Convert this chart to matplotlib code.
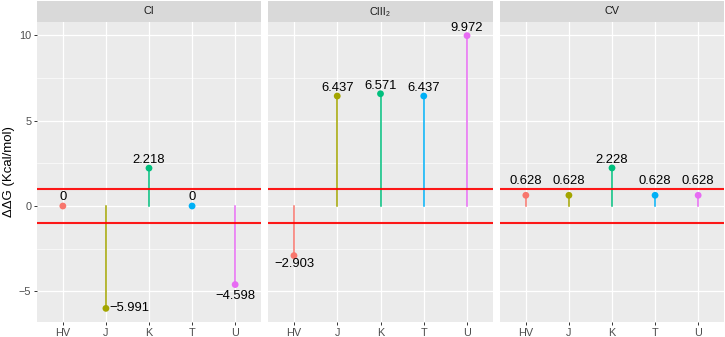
import numpy as np
import matplotlib.pyplot as plt

plt.rcParams['font.family'] = ['Liberation Sans', 'DejaVu Sans']

# data
groups = ['HV', 'J', 'K', 'T', 'U']
facets = ['CI', 'CIII\u2082', 'CV']
ci_vals = [0, -5.991, 2.218, 0, -4.598]
ciii_vals = [-2.903, 6.437, 6.571, 6.437, 9.972]
cv_vals = [0.628, 0.628, 2.228, 0.628, 0.628]
all_vals = [ci_vals, ciii_vals, cv_vals]

colors = ['#F8766D', '#A3A500', '#00BF7D', '#00B0F6', '#E76BF3']

### label nudges in pixels (dx, dy, ha, va), by facet
nudges = [
    [(0, 3, 'center', 'bottom'), (3, 0, 'left', 'center'), (0, 2, 'center', 'bottom'),
     (0, 3, 'center', 'bottom'), (0, -5, 'center', 'top')],
    [(0, -2, 'center', 'top'), (0, 2, 'center', 'bottom'), (0, 2, 'center', 'bottom'),
     (0, 2, 'center', 'bottom'), (0, 2, 'center', 'bottom')],
    [(0, 8, 'center', 'bottom'), (0, 8, 'center', 'bottom'), (0, 2, 'center', 'bottom'),
     (0, 8, 'center', 'bottom'), (0, 8, 'center', 'bottom')],
]

W, H = 725, 337
fig = plt.figure(figsize=(W / 100, H / 100), dpi=100)

panel_x = [(37, 261), (268, 493), (500, 724)]
top, bottom, strip_top = 22, 322, 1

lo = min(min(v) for v in all_vals)
hi = max(max(v) for v in all_vals)
pad = (hi - lo) * 0.05
ylim = (lo - pad, hi + pad)

def fmt(v):
    s = '%g' % v
    return s.replace('-', '\u2212')

x = np.arange(1, len(groups) + 1)

for i, (x0, x1) in enumerate(panel_x):
    ax = fig.add_axes([x0 / W, 1 - bottom / H, (x1 - x0) / W, (bottom - top) / H])
    ax.set_facecolor('#EBEBEB')
    for s in ax.spines.values():
        s.set_visible(False)
    ax.set_xlim(0.4, 5.6)
    ax.set_ylim(*ylim)
    ax.set_yticks([-5, 0, 5, 10])
    ax.set_yticks([-2.5, 2.5, 7.5], minor=True)
    ax.set_xticks(x)
    ax.set_xticklabels(groups)
    ax.grid(which='major', color='white', lw=0.9)
    ax.grid(which='minor', axis='y', color='white', lw=0.45)
    ax.set_axisbelow(True)
    ax.tick_params(which='major', length=2.5, width=0.7, color='#333333',
                   labelsize=7.8, labelcolor='#4D4D4D', pad=1.5)
    ax.tick_params(which='minor', length=0)
    if i == 0:
        ax.set_yticklabels(['\u22125', '0', '5', '10'])
        ax.set_ylabel('\u0394\u0394G (Kcal/mol)', fontsize=9.5, labelpad=3)
    else:
        ax.tick_params(axis='y', which='major', length=0, labelleft=False)

    vals = all_vals[i]
    for j in range(len(groups)):
        ax.plot([x[j], x[j]], [0, vals[j]], color=colors[j], lw=1.1, zorder=2)
    ax.axhline(1, color='red', lw=1.5, alpha=0.9, zorder=3)
    ax.axhline(-1, color='red', lw=1.5, alpha=0.9, zorder=3)
    ax.scatter(x, vals, c=colors, s=24, zorder=4, linewidths=0)
    for j in range(len(groups)):
        dx, dy, ha, va = nudges[i][j]
        ax.annotate(fmt(vals[j]), (x[j], vals[j]), xytext=(dx, dy),
                    textcoords='offset pixels', ha=ha, va=va, fontsize=9.4,
                    color='black', zorder=5)

    # strip
    sax = fig.add_axes([x0 / W, 1 - top / H, (x1 - x0) / W, (top - strip_top) / H])
    sax.set_facecolor('#D9D9D9')
    sax.set_xticks([])
    sax.set_yticks([])
    for s in sax.spines.values():
        s.set_visible(False)
    sax.text(0.5, 0.5, facets[i], ha='center', va='center', fontsize=7.8,
             color='#1A1A1A', transform=sax.transAxes)

fig.savefig('out.png', dpi=100)
